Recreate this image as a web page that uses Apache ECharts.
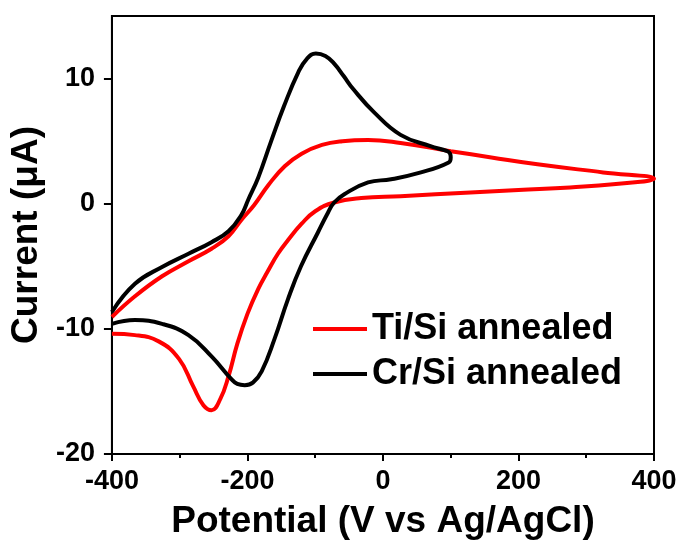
<!DOCTYPE html>
<html>
<head>
<meta charset="utf-8">
<script src="https://cdn.jsdelivr.net/npm/echarts@6/dist/echarts.min.js"></script>
<style>
  html, body { margin: 0; padding: 0; background: #fff; }
  #chart { width: 683px; height: 545px; }
</style>
</head>
<body>
<div id="chart"></div>
<script>
// Ti/Si annealed: forward scan then reverse scan
const tiX = [-400, -366, -326, -287, -253, -228, -209, -190, -169, -145, -120, -90, -60, -22, 26, 100, 160, 228, 325, 400,
  380, 276, 200, 129, 26, -32, -72, -100, -120, -140, -155, -170, -184, -200, -215, -228, -240, -253, -265, -280, -301, -331, -366, -400];
const tiY = [-9.05, -7.4, -5.8, -4.6, -3.6, -2.6, -1.3, -0.1, 1.5, 3.0, 4.0, 4.7, 5.0, 5.1, 4.85, 4.2, 3.7, 3.15, 2.5, 2.0,
  1.75, 1.3, 1.1, 0.9, 0.6, 0.45, 0.1, -0.6, -1.6, -2.9, -4.0, -5.4, -6.8, -8.8, -11.2, -13.8, -15.6, -16.5, -16.1, -14.6, -12.4, -11.0, -10.5, -10.4];

// Cr/Si annealed
const crX = [-400, -366, -326, -287, -253, -228, -209, -199, -184, -165, -146, -125, -112, -99, -85, -72, -58, -43, -13, 26, 70, 95, 99, 100,
  97, 56, 12, -22, -57, -72, -81, -96, -121, -140, -160, -179, -192, -204, -215, -224, -253, -287, -326, -366, -400];
const crY = [-8.65, -6.4, -5.06, -4.0, -3.07, -2.2, -0.9, 0.3, 2.1, 5.0, 7.8, 10.5, 11.6, 12.0, 11.8, 11.2, 10.2, 9.1, 7.3, 5.5, 4.6, 4.2, 4.0, 3.7,
  3.3, 2.5, 1.95, 1.7, 0.76, 0.1, -0.7, -2.3, -5.0, -7.6, -10.8, -13.4, -14.3, -14.5, -14.4, -14.0, -12.2, -10.5, -9.6, -9.3, -9.6];

const xTicks = [-400, -200, 0, 200, 400];
const yTicks = [-20, -10, 0, 10];
const seriesNames = ['Ti/Si annealed', 'Cr/Si annealed'];

const pairs = (xs, ys) => xs.map((x, i) => [x, ys[i]]);
const font = 'Liberation Sans, Arial, sans-serif';

const chart = echarts.init(document.getElementById('chart'));
chart.setOption({
  animation: false,
  grid: {
    left: 110, right: 29, top: 16, bottom: 89,
    show: true, borderColor: '#000', borderWidth: 2
  },
  legend: {
    orient: 'vertical',
    left: 308,
    top: 306,
    itemWidth: 54,
    itemHeight: 4,
    itemGap: 9,
    icon: 'rect',
    data: seriesNames,
    textStyle: {
      fontFamily: font, fontWeight: 'bold', fontSize: 36, lineHeight: 36, color: '#000'
    }
  },
  xAxis: {
    type: 'value',
    min: -400, max: 400, interval: 200,
    name: 'Potential (V vs Ag/AgCl)',
    nameLocation: 'middle',
    nameGap: 49,
    nameTextStyle: { fontFamily: font, fontWeight: 'bold', fontSize: 37, color: '#000' },
    axisLine: { onZero: false, lineStyle: { color: '#000', width: 2 } },
    axisTick: { show: true, inside: false, length: 7, lineStyle: { width: 2, color: '#000' } },
    minorTick: { show: true, splitNumber: 2, length: 4, lineStyle: { width: 2, color: '#000' } },
    splitLine: { show: false },
    axisLabel: {
      customValues: xTicks,
      margin: 14,
      fontFamily: font, fontWeight: 'bold', fontSize: 27, color: '#000'
    }
  },
  yAxis: {
    type: 'value',
    min: -20, max: 15, interval: 10,
    name: 'Current (μA)',
    nameLocation: 'middle',
    nameGap: 63,
    nameTextStyle: { fontFamily: font, fontWeight: 'bold', fontSize: 37, color: '#000' },
    axisLine: { onZero: false, lineStyle: { color: '#000', width: 2 } },
    axisTick: { show: true, customValues: yTicks, length: 8, lineStyle: { width: 2, color: '#000' } },
    splitLine: { show: false },
    axisLabel: {
      customValues: yTicks,
      margin: 17,
      fontFamily: font, fontWeight: 'bold', fontSize: 27, color: '#000'
    }
  },
  series: [
    {
      name: seriesNames[0],
      type: 'line',
      data: pairs(tiX, tiY),
      color: '#ff0000',
      smooth: 0.45,
      showSymbol: false,
      lineStyle: { width: 4, color: '#ff0000' }
    },
    {
      name: seriesNames[1],
      type: 'line',
      data: pairs(crX, crY),
      color: '#000000',
      smooth: 0.45,
      showSymbol: false,
      lineStyle: { width: 4, color: '#000000' }
    }
  ]
});
</script>
</body>
</html>
